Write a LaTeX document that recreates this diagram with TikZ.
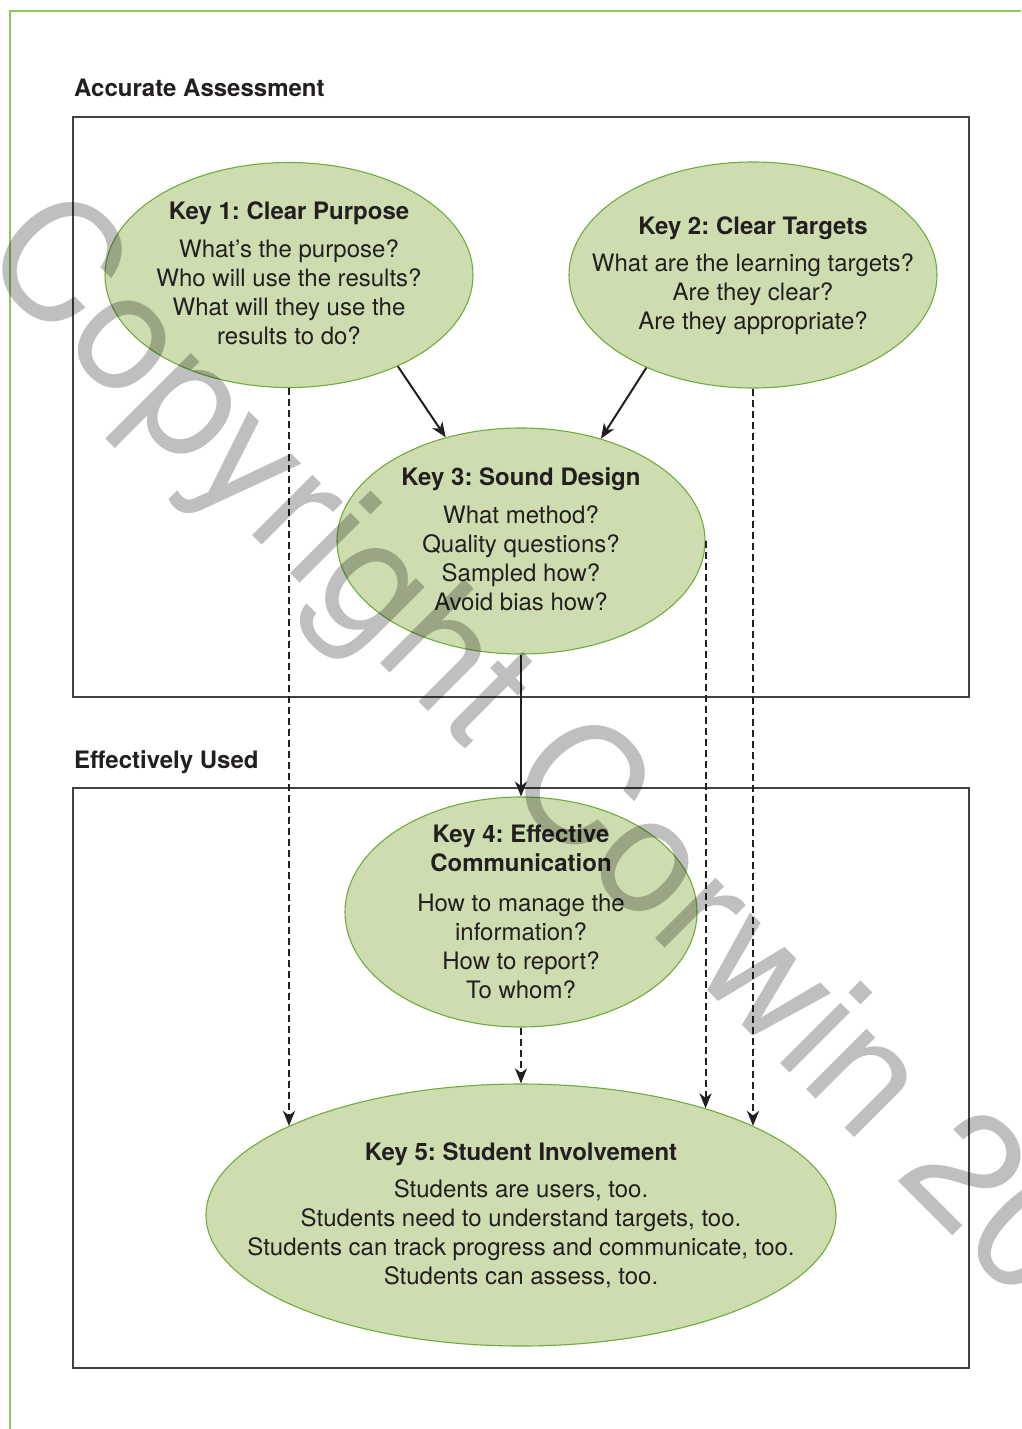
\documentclass[tikz,border=0pt]{standalone}
\usepackage{fontspec}
\setmainfont{TeX Gyre Heros}
\usetikzlibrary{arrows.meta,shapes.geometric}
\definecolor{keyfill}{RGB}{205,221,176}
\definecolor{keyline}{RGB}{112,172,60}
\definecolor{frameg}{RGB}{141,198,96}
\definecolor{ink}{RGB}{35,31,32}
\begin{document}
\frenchspacing
\begin{tikzpicture}[x=1pt,y=-1pt,
  keyshape/.style={ellipse, draw=keyline, line width=1.1pt, fill=keyfill, inner sep=0pt},
  keytext/.style={inner sep=0pt, align=center, text=ink, font=\fontsize{24}{29}\selectfont\frenchspacing},
  box/.style={draw=ink!85, line width=1.2pt},
  head/.style={anchor=base west, inner sep=0pt, font=\fontsize{24}{29}\selectfont\bfseries, text=ink},
  solidarrow/.style={draw=ink, line width=2pt, -{Stealth[length=15pt,width=12pt,inset=4.5pt]}},
  dasharrow/.style={solidarrow, dash pattern=on 7pt off 4pt},
  wmark/.style={anchor=base west, inner sep=0pt, rotate=-45, opacity=0.25, text opacity=0.25, text=black, font=\fontsize{163}{163}\selectfont}]
\useasboundingbox (0,0) rectangle (1021,1429);
\fill[white] (0,0) rectangle (1021,1429);
\draw[frameg, line width=1.6pt] (10,1429) -- (10,11) -- (1021,11);

\node[head] (h1) at (74,96) {Accurate Assessment};
\node[head] (h2) at (74,768) {Effectively Used};
\draw[box] (73,117) rectangle (969,697);
\draw[box] (73,788) rectangle (969,1368);

\node[keyshape, minimum width=368pt, minimum height=225pt] (k1) at (289,275) {};
\node[keyshape, minimum width=368pt, minimum height=226pt] (k2) at (753,275) {};
\node[keyshape, minimum width=368pt, minimum height=226pt] (k3) at (521,541) {};
\node[keyshape, minimum width=352pt, minimum height=230pt] (k4) at (521,912) {};
\node[keyshape, minimum width=630pt, minimum height=262pt] (k5) at (521,1215) {};

\node[keytext, yshift=1.5pt] (t1) at (k1.center)
  {\textbf{Key 1: Clear Purpose}\\[9pt]What’s the purpose?\\Who will use the results?\\What will they use the\\results to do?};
\node[keytext, yshift=-1pt] (t2) at (k2.center)
  {\textbf{Key 2: Clear Targets}\\[8pt]What are the learning targets?\\Are they clear?\\Are they appropriate?};
\node[keytext, yshift=2pt] (t3) at (k3.center)
  {\textbf{Key 3: Sound Design}\\[9pt]What method?\\Quality questions?\\Sampled how?\\Avoid bias how?};
\node[keytext, yshift=0.5pt] (t4) at (k4.center)
  {\textbf{Key 4: Effective}\\\textbf{Communication}\\[11pt]How to manage the\\information?\\How to report?\\To whom?};
\node[keytext, yshift=-0.5pt] (t5) at (k5.center)
  {\textbf{Key 5: Student Involvement}\\[8pt]Students are users, too.\\Students need to understand targets, too.\\Students can track progress and communicate, too.\\Students can assess, too.};

\draw[solidarrow] (k1.320) -- (k3.126);
\draw[solidarrow] (k2.221) -- (k3.52);
\draw[solidarrow] (k3.south) -- (k4.north);
\draw[dasharrow] (k4.south) -- (k5.north);
\draw[dasharrow] (k1.south) -- (k1.south |- k5.159);
\draw[dasharrow] (k3.east) -- (k3.east |- k5.30);
\draw[dasharrow] (k2.south) -- (k2.south |- k5.21);

\begin{scope}
\clip (0,0) rectangle (1021,1429);
\node[wmark] (wm) at (-23,260) {Copyright Corwin 20};
\end{scope}
\end{tikzpicture}
\end{document}
